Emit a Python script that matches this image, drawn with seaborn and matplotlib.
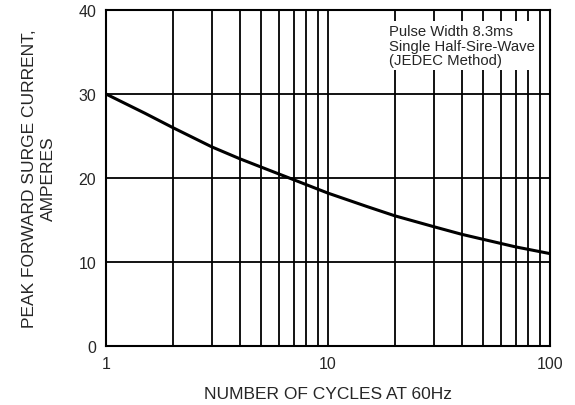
import numpy as np
import pandas as pd
import matplotlib
matplotlib.use("Agg")
import matplotlib.pyplot as plt
import seaborn as sns

# values
cycles = [1, 1.5, 2, 3, 4, 5, 7, 10, 15, 20, 30, 40, 50, 70, 100]
current = [30.0, 27.7, 26.0, 23.7, 22.3, 21.3, 19.8, 18.2, 16.6, 15.5, 14.2, 13.3, 12.7, 11.8, 11.0]

y_ticks = [0, 10, 20, 30, 40]
x_ticks = [1, 10, 100]
note = "Pulse Width 8.3ms\nSingle Half-Sire-Wave\n(JEDEC Method)"

sns.set_style("white")
plt.rcParams['font.family'] = ['Liberation Sans', 'DejaVu Sans']

df = pd.DataFrame({"cycles": cycles, "current": current})

fig, ax = plt.subplots(figsize=(5.75, 4.06), dpi=100)
fig.subplots_adjust(left=0.1843, right=0.9565, top=0.9729, bottom=0.1453)

ax.set_xscale("log")
sns.lineplot(data=df, x="cycles", y="current", ax=ax, color="black", linewidth=2.2, zorder=3)

ax.set_xlim(1, 100)
ax.set_ylim(0, 40)
ax.set_xticks(x_ticks)
ax.set_xticklabels([str(t) for t in x_ticks])
ax.set_yticks(y_ticks)

# grid: every decade subdivision and every 10 A
for d in [1, 10]:
    for k in range(2, 11):
        ax.axvline(d * k, color="black", linewidth=1.3, zorder=1)
for v in [10, 20, 30]:
    ax.axhline(v, color="black", linewidth=1.3, zorder=1)

for s in ax.spines.values():
    s.set_color("black")
    s.set_linewidth(1.5)

ax.tick_params(axis="both", labelsize=11.5, length=3, direction="in", color="black", pad=7)
ax.minorticks_off()

ax.set_xlabel("NUMBER OF CYCLES AT 60Hz", fontsize=12.5, labelpad=11)
ax.set_ylabel("PEAK FORWARD SURGE CURRENT,\nAMPERES", fontsize=12.5, labelpad=16,
              linespacing=1.35)

ax.text(0.637, 0.958, note, transform=ax.transAxes, fontsize=10.7, va="top", ha="left",
        linespacing=1.05, zorder=4,
        bbox=dict(facecolor="white", edgecolor="none", pad=2))

fig.savefig("out.png", dpi=100)
